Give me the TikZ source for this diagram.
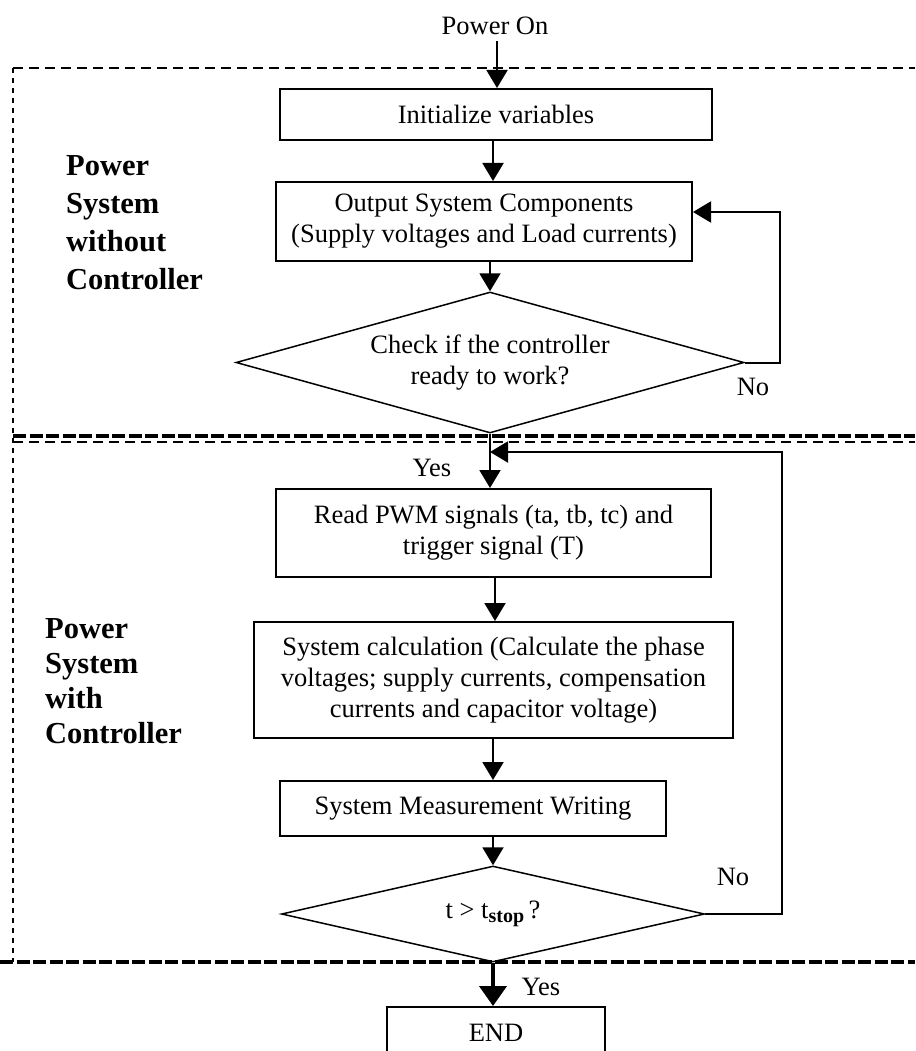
\documentclass[tikz,border=0pt]{standalone}
\usepackage{fontspec}
\setmainfont{Liberation Serif}
\usetikzlibrary{arrows.meta,shapes.geometric,calc}

\begin{document}
\begin{tikzpicture}[x=1pt,y=-1pt,
  txt/.style={font=\fontsize{26.5}{31}\selectfont},
  procbox/.style={draw, line width=2pt, inner sep=0pt, align=center, txt},
  decision/.style={draw, diamond, line width=1.5pt, inner sep=0pt, align=center, txt, aspect=4},
  flow/.style={line width=2pt, -{Triangle[width=21pt,length=18pt]}},
  bigflow/.style={line width=4pt, -{Triangle[width=27pt,length=20pt]}},
  region/.style={line width=1.8pt, dash pattern=on 10pt off 6pt},
  regionside/.style={line width=1.8pt, dash pattern=on 5pt off 5pt},
  boundary/.style={line width=4.5pt, dash pattern=on 13pt off 3.5pt},
  sidelabel/.style={font=\fontsize{30.5}{38}\selectfont\bfseries, align=left, anchor=north west, inner sep=0pt},
  tag/.style={txt, inner sep=0pt},
]
\useasboundingbox (0,0) rectangle (915,1051);
\clip (0,0) rectangle (915,1051);

% section frames
\draw[region] (13,68) -- (915,68);
\draw[regionside] (13,68) -- (13,962);
\draw[region] (13,442) -- (915,442);
\draw[boundary] (13,436) -- (915,436);
\draw[boundary] (0,962) -- (915,962);

% section titles
\node[sidelabel] (lblA) at (66,155) {Power\\System\\without\\Controller};
\node[sidelabel, font=\fontsize{30.5}{35}\selectfont\bfseries] (lblB) at (45,618) {Power\\System\\with\\Controller};

% flow nodes
\node[tag, inner sep=6pt] (po) at (495,26) {Power On};
\node[procbox, minimum width=432pt, minimum height=51pt] (init) at (496,114.5) {Initialize variables};
\node[procbox, minimum width=416pt, minimum height=79pt] (out) at (484,221.5) {Output System Components\\(Supply voltages and Load currents)};
\node[decision, minimum width=508pt, minimum height=141pt] (d1) at (490,362.5) {Check if the controller\\ready to work?};
\node[procbox, minimum width=435pt, minimum height=88pt] (read) at (493.5,533) {Read PWM signals (ta, tb, tc) and\\trigger signal (T)};
\node[procbox, minimum width=479pt, minimum height=116pt] (calc) at (493.5,680) {System calculation (Calculate the phase\\voltages; supply currents, compensation\\currents and capacitor voltage)};
\node[procbox, minimum width=386pt, minimum height=55pt] (smw) at (473,808.5) {System Measurement Writing};
\node[decision, minimum width=423pt, minimum height=96pt] (d2) at (493,914) {t > t\raisebox{-0.3ex}{\fontsize{20}{20}\selectfont\bfseries stop}\,?};
\node[procbox, minimum width=218pt, minimum height=52pt] (endbox) at (496,1033) {END};

% branch labels
\node[tag] (no1) at (753,387) {No};
\node[tag] (yes1) at (432,468) {Yes};
\node[tag] (no2) at (733,877) {No};
\node[tag] (yes2) at (541,987) {Yes};

% connectors
\coordinate (fb1) at (780,212);
\coordinate (fb2) at (782,452);
\draw[flow] (po.south -| 497,0) -- (init.north -| 497,0);
\draw[flow] (init.south -| 493,0) -- (out.north -| 493,0);
\draw[flow] (out.south -| d1.north) -- (d1.north);
\draw[flow] (d1.south) -- (read.north -| d1.south);
\draw[flow] (read.south -| 495,0) -- (calc.north -| 495,0);
\draw[flow] (calc.south -| d2.north) -- (smw.north -| d2.north);
\draw[flow] (smw.south -| d2.north) -- (d2.north);
\draw[bigflow] (d2.south) -- (endbox.north -| d2.south);
\draw[flow] (d1.east) -| (fb1) -- (out.east |- fb1);
\draw[flow] (d2.east) -| (fb2) -- (fb2 -| d1.south);
\end{tikzpicture}
\end{document}
